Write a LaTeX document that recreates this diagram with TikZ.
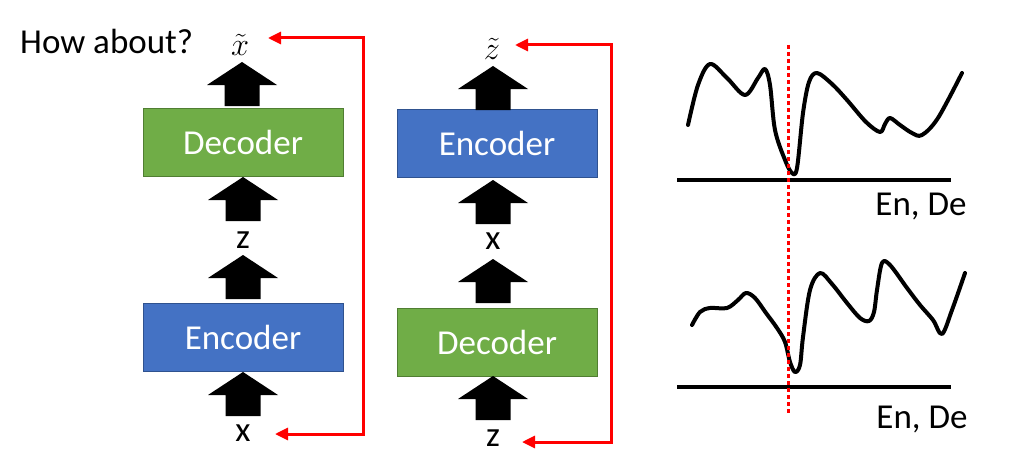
\documentclass[tikz,border=0pt]{standalone}
\usepackage{fontspec}
\setmainfont{Carlito}
\usetikzlibrary{arrows.meta}
\definecolor{encfill}{HTML}{4472C4}
\definecolor{encline}{HTML}{2F528F}
\definecolor{decfill}{HTML}{70AD47}
\definecolor{decline}{HTML}{507E32}
\definecolor{fbred}{HTML}{FF0000}
\tikzset{
  blk/.style={minimum width=200pt, minimum height=68pt, inner sep=0pt, text=white, line width=1pt,
    font=\fontsize{35}{42}\selectfont},
  encbox/.style={blk, fill=encfill, draw=encline},
  decbox/.style={blk, fill=decfill, draw=decline},
  lbl/.style={inner sep=0pt, font=\fontsize{35}{42}\selectfont},
  mlbl/.style={inner sep=0pt, font=\Huge, scale=1.3},
  fb/.style={draw=fbred, line width=3pt, {Triangle[length=13pt,width=12pt]}-{Triangle[length=13pt,width=12pt]}},
  curve/.style={line width=4pt, line cap=round, line join=round},
  axis/.style={line width=3.5pt},
  pics/uparrow/.style={code={
    \fill[black] (-35,23) -- (0,0) -- (35,23) -- (17.5,23) -- (17.5,44) -- (-17.5,44) -- (-17.5,23) -- cycle;
  }}
}
\begin{document}
\begin{tikzpicture}[x=1pt, y=-1pt]
\useasboundingbox (0,0) rectangle (1033,460);

% left column: x -> Encoder -> z -> Decoder -> x~
\node[lbl, anchor=base west] (how) at (20,54) {How about?};
\node[mlbl] (xt) at (240,45) {$\tilde{x}$};
\node[decbox] (dec1) at (243,142.5) {Decoder};
\node[lbl] (z1) at (243,240) {z};
\node[encbox] (enc1) at (243,337) {Encoder};
\node[lbl] (x1) at (243,433) {x};
\pic at (242,62) {uparrow};
\pic at (243,177) {uparrow};
\pic at (243,255) {uparrow};
\pic at (243,372) {uparrow};
\coordinate (fbL1) at (275,434);
\coordinate (fbL2) at (268,38);
\draw[fb] (fbL1) -- (363,434) -- (363,38) -- (fbL2);

% middle column: z -> Decoder -> x -> Encoder -> z~
\node[mlbl] (zt) at (492,49) {$\tilde{z}$};
\node[encbox] (enc2) at (497,143.5) {Encoder};
\node[lbl] (x2) at (493,241) {x};
\node[decbox] (dec2) at (497,342) {Decoder};
\node[lbl] (z2) at (493,438) {z};
\pic at (493,66) {uparrow};
\pic at (493,180) {uparrow};
\pic at (493,259) {uparrow};
\pic at (493,376) {uparrow};
\coordinate (fbM1) at (522,442);
\coordinate (fbM2) at (515,45);
\draw[fb] (fbM1) -- (611,442) -- (611,45) -- (fbM2);

% right: loss landscapes over (En, De)
\draw[axis] (677,180) -- (951,180);
\node[lbl, anchor=center] (ax1) at (921,207) {En, De};
\draw[curve] plot[smooth, tension=0.55] coordinates {
  (688,125) (698,85) (710,64) (727,78) (745,95) (758,78) (765,69)
  (770,85) (775,130) (785,160) (792,173) (797,168) (803,113)
  (809,82) (817,73) (832,84) (847,100) (866,122) (880,132)
  (885,124) (890,118) (900,125) (912,133) (922,135) (938,118) (962,73)};

\draw[axis] (677,387) -- (951,387);
\node[lbl, anchor=center] (ax2) at (922,420) {En, De};
\draw[curve] plot[smooth, tension=0.55] coordinates {
  (692,325) (700,312) (710,308) (727,308) (738,300) (746,293)
  (755,298) (766,313) (777,328) (785,342) (790,362) (795,372)
  (800,365) (803,337) (810,290) (820,273) (832,284) (847,303)
  (860,318) (869,321) (874,312) (877,290) (882,263) (890,265)
  (907,288) (920,305) (933,320) (942,334) (952,310) (965,273)};

\draw[draw=fbred, line width=3pt, dash pattern=on 4pt off 3pt] (788,45) -- (788,415);
\end{tikzpicture}
\end{document}
